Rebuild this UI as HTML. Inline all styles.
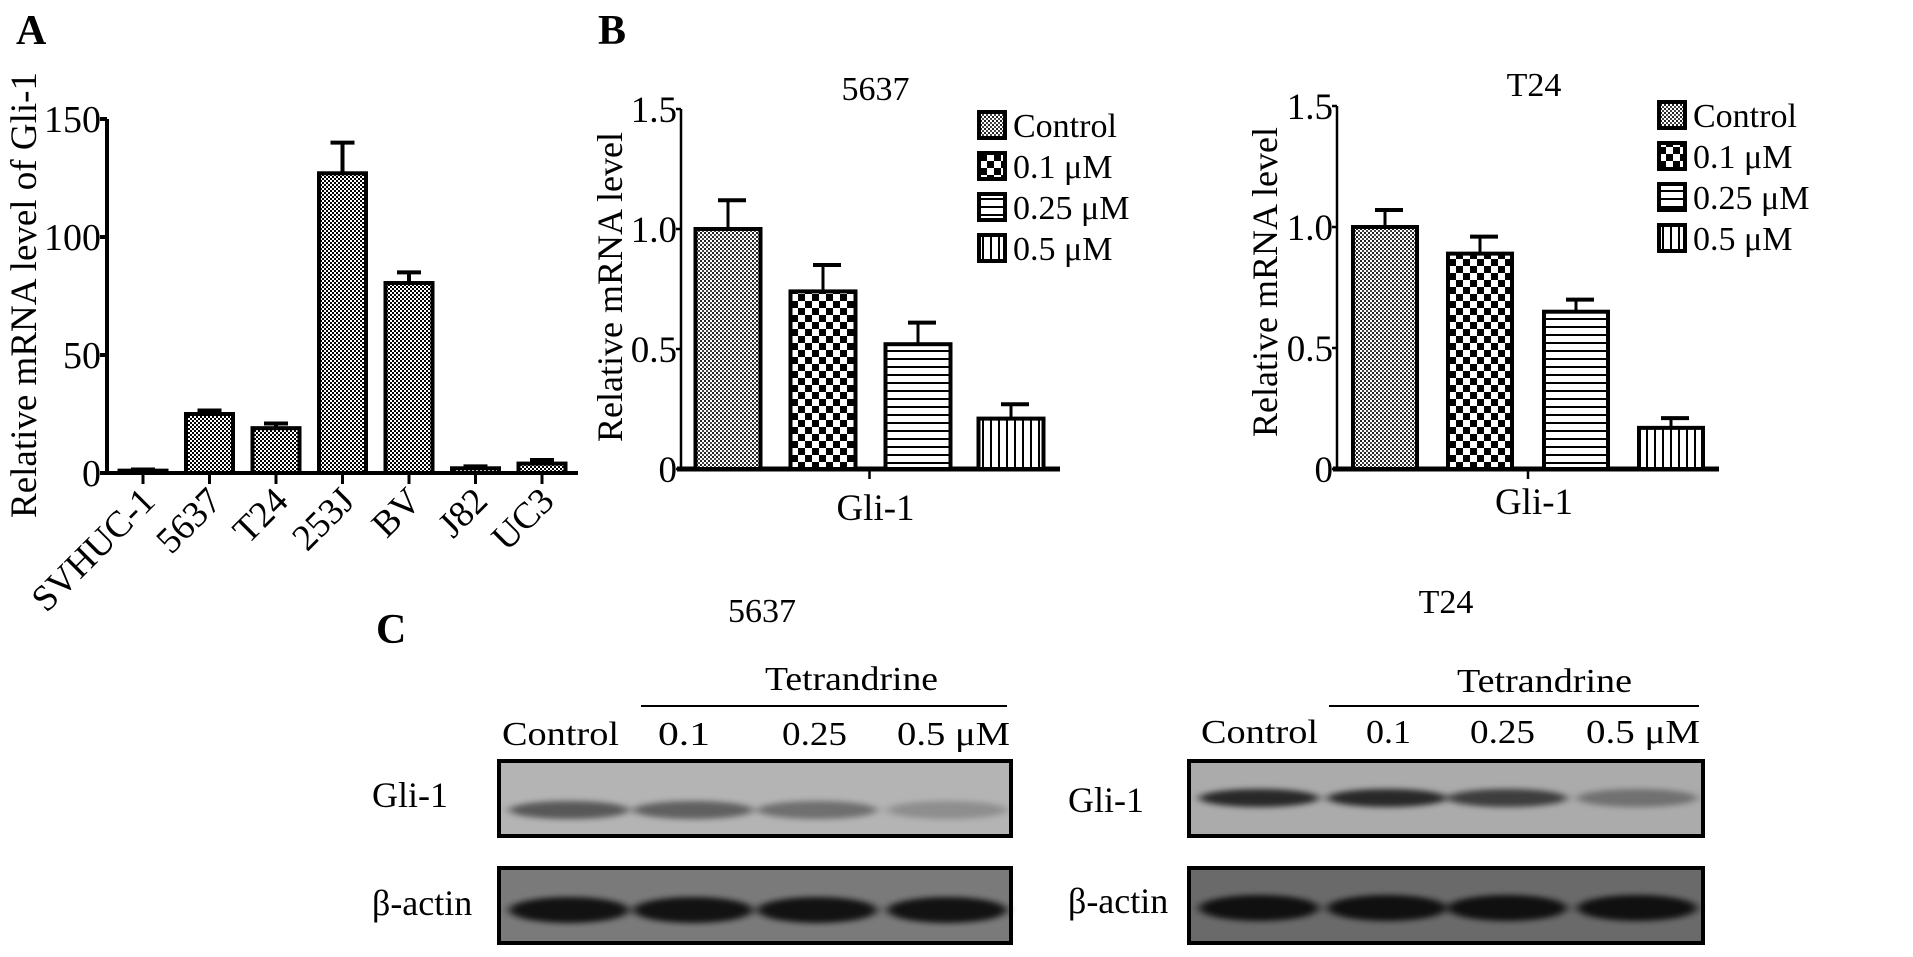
<!DOCTYPE html>
<html><head><meta charset="utf-8"><style>
html,body{margin:0;padding:0;background:#fff;}
svg{display:block;font-family:"Liberation Serif",serif;}
</style></head><body>
<svg id="fig" width="1913" height="957" viewBox="0 0 1913 957" xmlns="http://www.w3.org/2000/svg">
<defs>
<pattern id="pDots" width="4" height="4" patternUnits="userSpaceOnUse"><rect width="4" height="4" fill="#fff"/><rect width="2" height="2" fill="#000"/><rect x="2" y="2" width="2" height="2" fill="#000"/></pattern>
<pattern id="pFine" width="4" height="4" patternUnits="userSpaceOnUse"><rect width="4" height="4" fill="#fff"/><rect width="2" height="2" fill="#222"/><rect x="2" y="2" width="2" height="2" fill="#444"/></pattern>
<pattern id="pCheck" width="14" height="14" patternUnits="userSpaceOnUse"><rect width="14" height="14" fill="#fff"/><rect width="7" height="7" fill="#000"/><rect x="7" y="7" width="7" height="7" fill="#000"/></pattern>
<pattern id="pHoriz" width="8" height="8" patternUnits="userSpaceOnUse"><rect width="8" height="8" fill="#fff"/><rect y="6" width="8" height="2" fill="#000"/></pattern>
<pattern id="pVert" width="8" height="8" patternUnits="userSpaceOnUse"><rect width="8" height="8" fill="#fff"/><rect x="6" width="2" height="8" fill="#000"/></pattern>
<filter id="blur" x="-20%" y="-100%" width="140%" height="300%"><feGaussianBlur stdDeviation="5 3"/></filter>
</defs>
<g id="root"></g>
</svg>
<script>
// Panel A data
const catsA = ["SVHUC-1","5637","T24","253J","BV","J82","UC3"];
const valsA = [1,25,19,127,80.5,2,4];
const errA = [0.5,1.5,2,13,4.5,0.8,1.5];
const ticksA = [0,50,100,150];
// Panel B data
const groupsB = ["Control","0.1 μM","0.25 μM","0.5 μM"];
const vals5637 = [1.0,0.74,0.52,0.21];
const err5637 = [0.12,0.11,0.09,0.06];
const valsT24 = [1.0,0.89,0.65,0.17];
const errT24 = [0.07,0.07,0.05,0.04];
const ticksB = [0,0.5,1.0,1.5];
const tickLabelsB = ["0","0.5","1.0","1.5"];
// Blot band intensities (0..1)
const gli5637 = [0.6,0.55,0.45,0.25];
const act5637 = [1.0,1.0,1.0,1.0];
const gliT24 = [0.9,0.9,0.75,0.4];
const actT24 = [1.0,1.0,1.0,1.0];
const lanes = ["Control","0.1","0.25","0.5 μM"];

const NS="http://www.w3.org/2000/svg";
const root=document.getElementById('root');
function el(tag,attrs,parent){const e=document.createElementNS(NS,tag);for(const k in attrs)e.setAttribute(k,attrs[k]);(parent||root).appendChild(e);return e;}
function txt(s,attrs,parent){const e=el('text',attrs,parent);e.textContent=s;return e;}

let t;
t=txt("A",{x:16,y:44,"font-size":42,"font-weight":"bold"});

t=txt("B",{x:598,y:44,"font-size":42,"font-weight":"bold"});

t=txt("C",{x:376,y:643,"font-size":42,"font-weight":"bold"});


// ---------- Panel A ----------
(function(){
  const g=el('g',{});
  
  const ax=107, y0=473, yTop=119, maxV=150;
  const y=v=>y0-(v/maxV)*(y0-yTop);
  const x0=143, step=66.5, bw=47;
  const xc=i=>x0+i*step;
  let a=el('line',{x1:ax,y1:yTop,x2:ax,y2:y0+2,stroke:"#000","stroke-width":4},g);
  
  a=el('line',{x1:ax-3,y1:y0,x2:578,y2:y0,stroke:"#000","stroke-width":4},g);
  
  ticksA.forEach(v=>{
    const tk=el('line',{x1:ax-7,y1:y(v),x2:ax,y2:y(v),stroke:"#000","stroke-width":4},g);
    
    const l=txt(String(v),{x:ax-6,y:y(v)+13,"font-size":38,"text-anchor":"end"},g);
    
  });
  catsA.forEach((c,i)=>{
    const cx=xc(i);
    const tk=el('line',{x1:cx,y1:y0,x2:cx,y2:y0+11,stroke:"#000","stroke-width":3},g);
    
    const e=errA[i], v=valsA[i];
    const el1=el('line',{x1:cx,y1:y(v),x2:cx,y2:y(v+e),stroke:"#000","stroke-width":4},g);
    
    const cap=el('line',{x1:cx-12,y1:y(v+e),x2:cx+12,y2:y(v+e),stroke:"#000","stroke-width":4},g);
    
    const b=el('rect',{x:cx-bw/2,y:y(v),width:bw,height:y0-y(v),fill:"url(#pDots)",stroke:"#000","stroke-width":4},g);
    
    const lx=cx+14, ly=y0+30;
    const l=txt(c,{x:lx,y:ly,"font-size":37,"text-anchor":"end",transform:`rotate(-45 ${lx} ${ly})`},g);
    
  });
  const yt=txt("Relative mRNA level of Gli-1",{x:0,y:0,"font-size":37,"text-anchor":"middle",transform:"translate(36 295) rotate(-90)"},g);
  
})();

// ---------- Panel B charts ----------
const fills=["url(#pFine)","url(#pCheck)","url(#pHoriz)","url(#pVert)"];
function panelB(cfg){
  const g=el('g',{});
  
  const {ax,y0,yTop,xEnd,xs,bw}=cfg;
  const y=v=>y0-(v/1.5)*(y0-yTop);
  let a=el('line',{x1:ax,y1:yTop,x2:ax,y2:y0,stroke:"#000","stroke-width":2.5},g);
  
  a=el('line',{x1:ax-4,y1:y0,x2:xEnd,y2:y0,stroke:"#000","stroke-width":5},g);
  
  ticksB.forEach((v,i)=>{
    const tk=el('line',{x1:ax-5,y1:y(v),x2:ax,y2:y(v),stroke:"#000","stroke-width":2.5},g);
    
    const l=txt(tickLabelsB[i],{x:ax-4,y:y(v)+13,"font-size":37,"text-anchor":"end"},g);
    
  });
  const mid=(xs[0]+xs[3])/2;
  let tk=el('line',{x1:mid,y1:y0,x2:mid,y2:y0+10,stroke:"#000","stroke-width":2.5},g);
  
  cfg.vals.forEach((v,i)=>{
    const cx=xs[i], e=cfg.errs[i];
    const l1=el('line',{x1:cx,y1:y(v),x2:cx,y2:y(v+e),stroke:"#000","stroke-width":3},g);
    
    const cap=el('line',{x1:cx-10,y1:y(v+e),x2:cx+18,y2:y(v+e),stroke:"#000","stroke-width":4},g);
    
    const b=el('rect',{x:cx-bw/2,y:y(v),width:bw,height:y0-y(v),fill:fills[i],stroke:"#000","stroke-width":4},g);
    
  });
  let s=txt(cfg.title,{x:mid+6,y:cfg.titleY,"font-size":34,"text-anchor":"middle"},g);
  
  s=txt("Gli-1",{x:mid+6,y:cfg.xlabY,"font-size":37,"text-anchor":"middle"},g);
  
  s=txt("Relative mRNA level",{x:0,y:0,"font-size":36,"text-anchor":"middle",transform:`translate(${cfg.ytX} ${cfg.ytY}) rotate(-90)`},g);
  
  groupsB.forEach((n,i)=>{
    const ly=cfg.legY+i*cfg.legStep;
    const lg=el('g',{},g);
    
    el('rect',{x:cfg.legX,y:ly-13,width:26,height:26,fill:fills[i],stroke:"#000","stroke-width":4},lg);
    txt(n,{x:cfg.legX+34,y:ly+12,"font-size":34},lg);
  });
}
panelB({name:"chart-5637",ax:681,y0:469,yTop:109,xEnd:1060,xs:[728,823,918,1011],bw:65,vals:vals5637,errs:err5637,title:"5637",titleY:100,xlabY:520,ytX:622,ytY:287,legX:979,legY:125,legStep:41});
panelB({name:"chart-t24",ax:1337,y0:469,yTop:106,xEnd:1719,xs:[1385,1480,1576,1671],bw:64,vals:valsT24,errs:errT24,title:"T24",titleY:96,xlabY:514,ytX:1277,ytY:282,legX:1659,legY:115,legStep:41});

// ---------- Panel C blots ----------
function blot(cfg){
  const g=el('g',{});
  
  const {x1,x2,lx}=cfg;
  let s=txt(cfg.title,{x:cfg.titleX,y:cfg.titleY,"font-size":34,"text-anchor":"middle"},g);
  
  s=txt("Tetrandrine",{x:cfg.tetX,y:cfg.tetY,"font-size":34,"textLength":cfg.tetW,"lengthAdjust":"spacingAndGlyphs"},g);
  
  s=el('line',{x1:cfg.lineX1,y1:706,x2:x2-4,y2:706,stroke:"#000","stroke-width":2},g);
  
  lanes.forEach((n,i)=>{
    const l=txt(n,{x:cfg.labX[i],y:cfg.labY,"font-size":34,"textLength":cfg.labW[i],"lengthAdjust":"spacingAndGlyphs"},g);
    
  });
  const rows=[{y:761,h:75,bg:cfg.gliBg,bandY:cfg.gliBandY,vals:cfg.gli,name:'gli-1',label:"Gli-1",ly:cfg.gliLabY,bh:9},
              {y:868,h:75,bg:cfg.actBg,bandY:cfg.actBandY,vals:cfg.act,name:'beta-actin',label:"β-actin",ly:cfg.actLabY,bh:13}];
  rows.forEach(r=>{
    const rg=el('g',{},g);
    
    el('rect',{x:x1,y:r.y,width:x2-x1,height:r.h,fill:r.bg},rg);
    r.vals.forEach((v,i)=>{
      const band=el('ellipse',{cx:cfg.lanesX[i],cy:r.bandY,rx:60,ry:r.bh,fill:"#000","fill-opacity":v*0.85,filter:"url(#blur)"},rg);
      
    });
    el('rect',{x:x1,y:r.y,width:x2-x1,height:r.h,fill:"none",stroke:"#000","stroke-width":4},rg);
    const l=txt(r.label,{x:lx,y:r.ly,"font-size":36},g);
    
  });
}
blot({name:"blot-5637",x1:499,x2:1011,lx:372,title:"5637",titleX:762,titleY:622,tetX:765,tetY:690,tetW:173,lineX1:641,
  labX:[502,658,782,897],labW:[117,52,65,113],labY:745,lanesX:[569,693,817,947],
  gliBg:"#b4b4b4",gliBandY:810,gli:gli5637,actBg:"#7a7a7a",actBandY:910,act:act5637,gliLabY:807,actLabY:915});
blot({name:"blot-t24",x1:1189,x2:1703,lx:1068,title:"T24",titleX:1446,titleY:613,tetX:1457,tetY:692,tetW:175,lineX1:1329,
  labX:[1201,1366,1470,1586],labW:[117,45,65,114],labY:743,lanesX:[1259,1387,1507,1637],
  gliBg:"#ababab",gliBandY:798,gli:gliT24,actBg:"#6a6a6a",actBandY:908,act:actT24,gliLabY:812,actLabY:913});
</script>
</body></html>
